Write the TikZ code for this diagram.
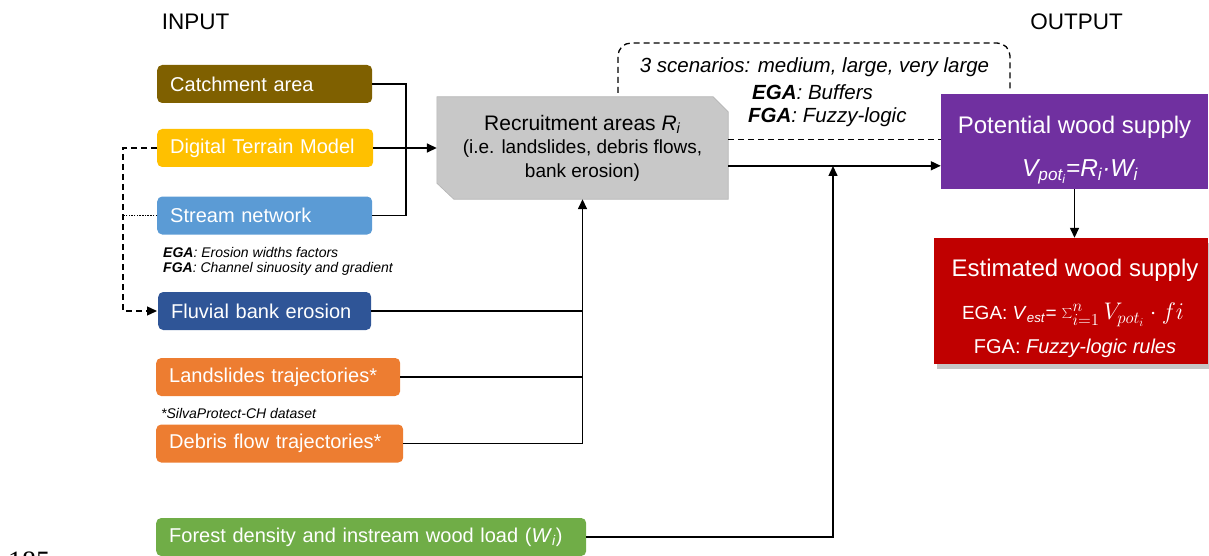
\RequirePackage{fix-cm}
\documentclass[tikz,border=0pt]{standalone}
\usepackage{fontspec}
\setmainfont{Liberation Sans}
\newfontfamily\pgserif{Liberation Serif}
\usetikzlibrary{arrows.meta,calc,shadows,backgrounds}

\definecolor{cbrown}{HTML}{7F6000}
\definecolor{cyellow}{HTML}{FFC000}
\definecolor{cblue}{HTML}{5B9BD5}
\definecolor{cdblue}{HTML}{2F5597}
\definecolor{corange}{HTML}{ED7D31}
\definecolor{cgreen}{HTML}{70AD47}
\definecolor{cpurple}{HTML}{7030A0}
\definecolor{cred}{HTML}{C00000}
\definecolor{cgray}{HTML}{C8C8C8}
\definecolor{cgrayline}{HTML}{B4B4B4}

\newcommand{\fsz}[2]{\fontsize{#1}{#2}\selectfont}

\begin{document}
\begin{tikzpicture}[x=1pt,y=-1pt,
  inbox/.style={rounded corners=5pt, text=white, font=\fsz{20}{24}, inner xsep=13pt, inner ysep=0pt, align=left, minimum height=38pt, anchor=west},
  conn/.style={line width=1.5pt, black},
  arr/.style={conn, -{Triangle[length=10pt,width=9pt]}},
  dsh/.style={line width=1.3pt, dash pattern=on 6pt off 4pt},
  lbl/.style={inner sep=0pt},
]
\useasboundingbox (0,0) rectangle (1209,556);

% headers
\node[lbl, font=\fsz{22.5}{26}] (inp) at (195.5,21.5) {INPUT};
\node[lbl, font=\fsz{22.5}{26}] (outp) at (1076.5,21.5) {OUTPUT};

% input boxes
\node[inbox, fill=cbrown, text width=189pt] (catch) at (157,84) {Catchment area};
\node[inbox, fill=cyellow, text width=190pt] (dtm) at (157,148) {Digital Terrain Model};
\node[inbox, fill=cblue, text width=189pt] (stream) at (157,215.5) {Stream network};
\node[lbl, anchor=west, align=left, font=\fsz{14}{15.5}\itshape] (egatxt) at (163,261.5)
  {\textbf{EGA}: Erosion widths factors\\\textbf{FGA}: Channel sinuosity and gradient};
\node[inbox, fill=cdblue, text width=187pt] (fluv) at (158,311) {Fluvial bank erosion};
\node[inbox, fill=corange, text width=218pt] (land) at (156,377) {Landslides trajectories*};
\node[lbl, anchor=west, font=\fsz{14}{16}\itshape] (silva) at (161,413) {*SilvaProtect-CH dataset};
\node[inbox, fill=corange, text width=221pt] (deb) at (156,443.5) {Debris flow trajectories*};
\node[inbox, fill=cgreen, text width=404pt] (forest) at (156,537) {Forest density and instream wood load (\textit{W}\textsubscript{\textit{i}})};

% recruitment areas
\node[inner sep=0pt, minimum width=291pt, minimum height=102pt, align=center, font=\fsz{19}{23.5}] (rec) at (582.5,148)
  {{\fsz{21}{23.5}Recruitment areas \textit{R}\textsubscript{\textit{i}}}\\(i.e. landslides, debris flows,\\bank erosion)};
\begin{scope}[on background layer]
  \filldraw[fill=cgray, draw=cgrayline, line width=0.6pt]
    (rec.north west) -- ($(rec.north east)+(-15,0)$) -- ($(rec.north east)+(0,15)$)
    -- (rec.south east) -- ($(rec.south west)+(17,0)$) -- ($(rec.south west)+(0,-16)$) -- cycle;
\end{scope}

% scenarios (dashed frame)
\draw[dsh, rounded corners=13pt] (618,93) -- (618,43) -- (1010,43) -- (1010,90);
\node[lbl, font=\fsz{20.5}{24}\itshape] (scen) at (814.5,67) {3 scenarios: medium, large, very large};
\node[lbl, anchor=west, font=\fsz{20.5}{24}\itshape] (scega) at (752,92) {\textbf{EGA}: Buffers};
\node[lbl, anchor=west, font=\fsz{20.5}{24}\itshape] (scfga) at (748,117) {\textbf{FGA}: Fuzzy-logic};

% output boxes
\node[fill=cpurple, minimum width=267pt, minimum height=95pt, inner sep=0pt] (pot) at (1074.5,141.5) {};
\node[lbl, text=white, font=\fsz{24}{28}] (pottitle) at (1074.5,127) {Potential wood supply};
\node[lbl, text=white, font=\fsz{24.5}{28}\itshape] (potform) at (1080,172)
  {V\textsubscript{pot\textsubscript{i}}=R\textsubscript{i}·W\textsubscript{i}};

\node[fill=cred, minimum width=274pt, minimum height=126pt, inner sep=0pt,
      drop shadow={shadow xshift=3pt, shadow yshift=-5pt, opacity=0.45}] (est) at (1071,301) {};
\node[lbl, text=white, font=\fsz{24}{28}] (esttitle) at (1075,270) {Estimated wood supply};
\node[lbl, text=white, font=\fsz{19}{22}] (estega) at (1073,315)
  {EGA: \textit{V}\textsubscript{\textit{est}}= {\fsz{24}{26}$\sum_{i=1}^{n} V_{pot_i}\cdot fi$}};
\node[lbl, text=white, font=\fsz{20}{24}] (estfga) at (1075,348) {FGA: \textit{Fuzzy-logic rules}};

% page number fragment
\node[anchor=base west, font=\pgserif\fsz{28}{28}, inner sep=0pt] (pg) at (8,570) {185};

% connectors
\coordinate (jx) at (406,0);
\coordinate (dl) at (123,0);
\draw[conn, line join=miter] (catch.east) -- (catch.east -| jx) -- (stream.east -| jx) -- (stream.east);
\draw[arr] (dtm.east) -- (dtm.east -| rec.west);
\draw[dsh, -{Triangle[length=10pt,width=9pt]}] (dtm.west) -- (dtm.west -| dl) -- (fluv.west -| dl) -- ($(fluv.west)+(-1,0)$);
\draw[line width=0.6pt, dash pattern=on 1.5pt off 1.2pt] (stream.west) -- (stream.west -| dl);

\draw[conn] (fluv.east) -- (fluv.east -| rec.south);
\draw[conn] (land.east) -- (land.east -| rec.south);
\draw[arr] (deb.east) -- (deb.east -| rec.south) -- (rec.south);

\coordinate (fm) at (833,166);
\draw[arr] (forest.east) -| (fm);

\coordinate (rp) at ($(rec.north east)+(0,69)$);
\draw[arr] (rp) -- (rp -| pot.west);

\coordinate (db) at ($(rec.north east)+(0,43)$);
\draw[dsh] (db) -- (db -| pot.west);

\draw[arr] (pot.south) -- (pot.south |- est.north);
\end{tikzpicture}
\end{document}
